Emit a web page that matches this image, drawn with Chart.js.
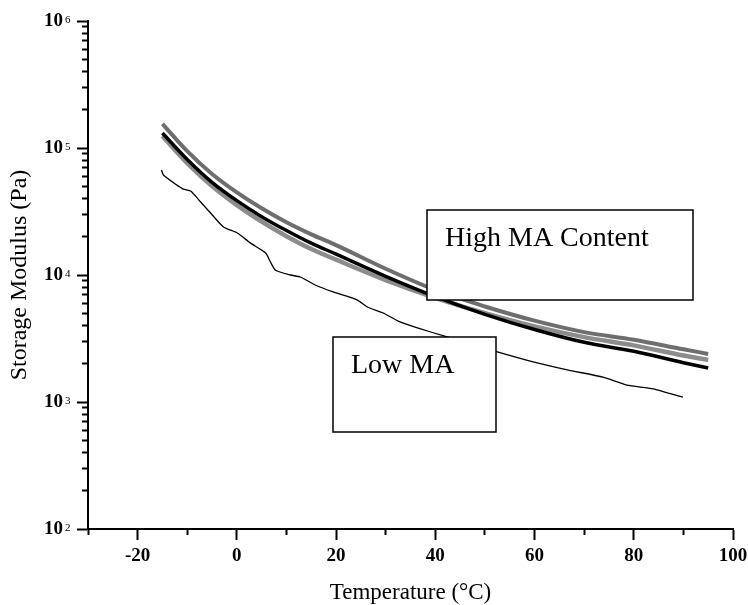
<!DOCTYPE html>
<html>
<head>
<meta charset="utf-8">
<title>Storage modulus vs temperature</title>
<script src="https://cdn.jsdelivr.net/npm/chart.js@4"></script>
<style>
  body { margin: 0; background: #fff; }
</style>
</head>
<body>
<canvas id="chart" width="748" height="605"></canvas>
<script>
"use strict";

///////////////////////////////////////
// Data

const highTemps = [-15, -10, -5, 0, 5, 10, 15, 20, 30, 40, 50, 60, 70, 80, 90, 95];

// top grey curve
const highUpper = [155000, 94400, 62400, 44700, 33500, 26000, 20900, 17200, 11200, 7620, 5650, 4370, 3550, 3090, 2600, 2390];
// lighter grey curve
const highMiddle = [124200, 75900, 50100, 35500, 26300, 20200, 16000, 13200, 9120, 6610, 5010, 3940, 3240, 2790, 2320, 2140];
// black curve
const highBlack = [131200, 81300, 53700, 38500, 28800, 22400, 17800, 14600, 9770, 6760, 4900, 3720, 2950, 2510, 2040, 1850];

const lowTemps = [-15.2, -14.8, -12.4, -10.8, -9.3, -7.3, -5.3, -2.7, 0.1, 2.7, 5.8, 6.8, 7.8, 10.8, 12.8,
  15.8, 19.4, 24.3, 26.3, 29.5, 32.9, 36.4, 42.4, 52.5, 59.7, 66.6, 73.8, 78.6, 83.9, 89.9];
const lowValues = [67100, 61300, 52100, 47500, 45800, 37600, 30800, 23900, 21400, 17900, 14900, 12600, 10900, 10000, 9640,
  8340, 7350, 6350, 5600, 5020, 4270, 3830, 3250, 2480, 2070, 1790, 1570, 1360, 1270, 1090];

const xMajorTicks = [-20, 0, 20, 40, 60, 80, 100];
const xMinorTicks = [-30, -10, 10, 30, 50, 70, 90];
const yDecades = [100, 1000, 10000, 100000, 1000000];

const toPoints = (xs, ys) => xs.map((x, i) => ({ x: x, y: ys[i] }));

///////////////////////////////////////
// Axes helpers

const serif = "'Liberation Serif', 'Times New Roman', serif";

const yMinorTicks = [];
yDecades.slice(0, -1).forEach(function (d) {
  for (let m = 2; m <= 9; m++) yMinorTicks.push(m * d);
});

const axisCommon = {
  border: { display: true, color: "#000", width: 2 },
};

// keep the plot area where the layout padding puts it
const fixWidth = (w) => (s) => { s.width = w; s.paddingTop = 0; s.paddingBottom = 0; };
const fixHeight = (h) => (s) => { s.height = h; s.paddingLeft = 0; s.paddingRight = 0; };

///////////////////////////////////////
// Plugins: superscripts and text boxes

const superscripts = {
  id: "superscripts",
  afterDraw(chart) {
    const ctx = chart.ctx;
    const y = chart.scales.y;
    ctx.save();
    ctx.font = "11px " + serif;
    ctx.fillStyle = "#000";
    ctx.textAlign = "left";
    ctx.textBaseline = "alphabetic";
    yDecades.forEach(function (v) {
      const py = y.getPixelForValue(v);
      ctx.fillText(String(Math.round(Math.log10(v))), y.right - 23, py + 1.5);
    });
    ctx.restore();
  },
};

const boxes = [
  { text: "High MA Content", x: 427, y: 210, w: 266, h: 90 },
  { text: "Low MA", x: 333, y: 337, w: 163, h: 95 },
];

const textBoxes = {
  id: "textBoxes",
  afterDatasetsDraw(chart) {
    const ctx = chart.ctx;
    ctx.save();
    ctx.lineWidth = 1.5;
    ctx.strokeStyle = "#000";
    ctx.font = "28px " + serif;
    ctx.textAlign = "left";
    ctx.textBaseline = "alphabetic";
    boxes.forEach(function (b) {
      ctx.fillStyle = "#fff";
      ctx.fillRect(b.x, b.y, b.w, b.h);
      ctx.strokeRect(b.x, b.y, b.w, b.h);
      ctx.fillStyle = "#000";
      ctx.fillText(b.text, b.x + 18, b.y + 36);
    });
    ctx.restore();
  },
};

///////////////////////////////////////
// Chart

const lineStyle = {
  pointRadius: 0,
  fill: false,
  tension: 0.4,
  cubicInterpolationMode: "monotone",
};

const config = {
  type: "line",
  data: {
    datasets: [
      Object.assign({ label: "High MA (black)", data: toPoints(highTemps, highBlack), borderColor: "#000", borderWidth: 3.5, order: 0 }, lineStyle),
      Object.assign({ label: "High MA (light)", data: toPoints(highTemps, highMiddle), borderColor: "#8c8c8c", borderWidth: 4.5, order: 1 }, lineStyle),
      Object.assign({ label: "High MA (grey)", data: toPoints(highTemps, highUpper), borderColor: "#6e6e6e", borderWidth: 4, order: 2 }, lineStyle),
      { label: "Low MA", data: toPoints(lowTemps, lowValues), borderColor: "#000", borderWidth: 1.3, pointRadius: 0, tension: 0.2, order: 3 },
    ],
  },
  options: {
    responsive: false,
    animation: false,
    events: [],
    layout: { padding: { top: 21, right: 15, left: 0, bottom: 0 } },
    plugins: {
      legend: { display: false },
      tooltip: { enabled: false },
    },
    scales: {
      x: Object.assign({}, axisCommon, {
        type: "linear",
        position: "bottom",
        weight: 1,
        min: -30,
        max: 100,
        afterBuildTicks: (s) => { s.ticks = xMajorTicks.map((v) => ({ value: v })); },
        afterFit: fixHeight(76),
        grid: { drawOnChartArea: false, drawTicks: true, tickLength: 11, tickWidth: 2, tickColor: "#000" },
        ticks: { color: "#000", padding: 5, maxRotation: 0, font: { family: serif, size: 19, weight: "bold" } },
        title: {
          display: true,
          text: "Temperature (°C)",
          color: "#000",
          padding: { top: 0, bottom: 1 },
          font: { family: serif, size: 23, lineHeight: 1 },
        },
      }),
      xMinor: Object.assign({}, axisCommon, {
        type: "linear",
        position: "bottom",
        weight: 0,
        min: -30,
        max: 100,
        afterBuildTicks: (s) => { s.ticks = xMinorTicks.map((v) => ({ value: v })); },
        afterFit: fixHeight(0),
        grid: { drawOnChartArea: false, drawTicks: true, tickLength: 6, tickWidth: 2, tickColor: "#000" },
        ticks: { display: false },
      }),
      y: Object.assign({}, axisCommon, {
        type: "logarithmic",
        position: "left",
        weight: 1,
        min: 100,
        max: 1000000,
        afterBuildTicks: (s) => { s.ticks = yDecades.map((v) => ({ value: v })); },
        afterFit: fixWidth(88),
        grid: { drawOnChartArea: false, drawTicks: true, tickLength: 11, tickWidth: 2, tickColor: "#000" },
        ticks: {
          color: "#000",
          padding: 14,
          callback: () => "10",
          font: { family: serif, size: 19, weight: "bold" },
        },
        title: {
          display: true,
          text: "Storage Modulus (Pa)",
          color: "#000",
          padding: { top: 8, bottom: 0 },
          font: { family: serif, size: 24, lineHeight: 1 },
        },
      }),
      yMinor: Object.assign({}, axisCommon, {
        type: "logarithmic",
        position: "left",
        weight: 0,
        min: 100,
        max: 1000000,
        afterBuildTicks: (s) => { s.ticks = yMinorTicks.map((v) => ({ value: v })); },
        afterFit: fixWidth(0),
        grid: { drawOnChartArea: false, drawTicks: true, tickLength: 6, tickWidth: 2, tickColor: "#000" },
        ticks: { display: false },
      }),
    },
  },
  plugins: [superscripts, textBoxes],
};

const chart = new Chart(document.getElementById("chart"), config);
</script>
</body>
</html>
